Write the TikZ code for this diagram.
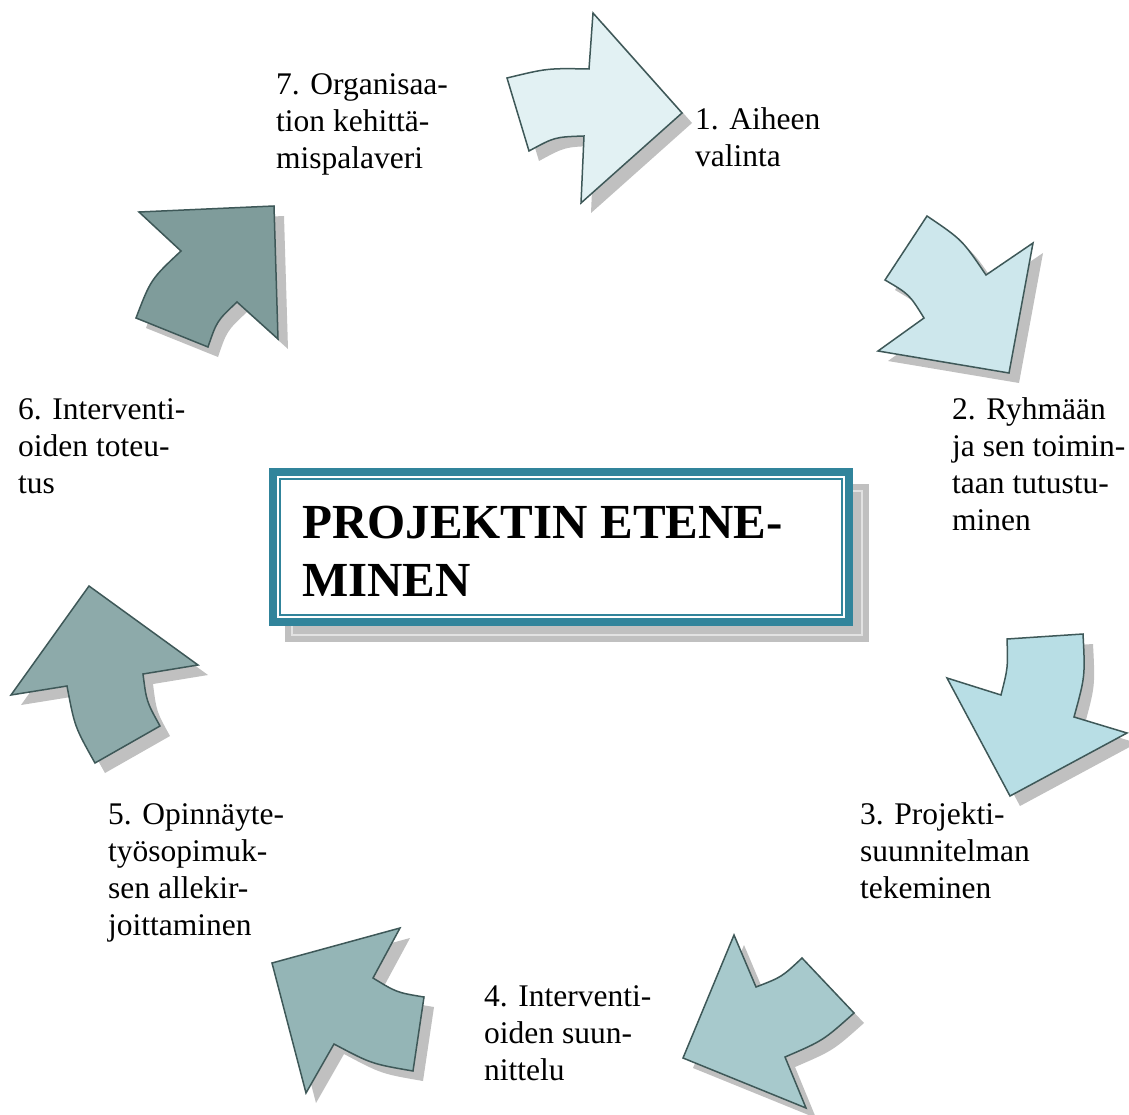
\documentclass[tikz,border=0pt]{standalone}
\usepackage{fontspec}
\setmainfont{Liberation Serif}
\definecolor{arrowline}{HTML}{3E5858}
\definecolor{shadowgray}{HTML}{C0C0C0}
\definecolor{shadowline}{HTML}{E2E2E2}
\definecolor{boxteal}{HTML}{31849B}
\definecolor{colA}{HTML}{E2F1F3}
\definecolor{colB}{HTML}{CDE7EC}
\definecolor{colC}{HTML}{B8DEE5}
\definecolor{colD}{HTML}{A7C9CC}
\definecolor{colE}{HTML}{94B5B6}
\definecolor{colF}{HTML}{8DAAAA}
\definecolor{colG}{HTML}{7F9C9B}
\newcommand\cyclearrow[2]{%
  \fill[shadowgray,xshift=10pt,yshift=-10pt] #2;
  \filldraw[arrowshape,fill=#1] #2;}
\begin{document}
\begin{tikzpicture}[x=1pt,y=-1pt,
  arrowshape/.style={draw=arrowline,line width=1.5pt,line join=miter},
  steplabel/.style={anchor=north west,inner sep=0pt,align=left,
    font=\fontsize{31.5}{37}\selectfont},
  titletext/.style={anchor=north west,inner sep=0pt,align=left,
    font=\fontsize{49}{58}\selectfont\bfseries}]
\useasboundingbox[fill=white] (0,0) rectangle (1129,1115);

% arrows
\cyclearrow{colA}{(507,78) .. controls (547.4,68.2) .. (589,69) -- (593,13) -- (682,113) -- (581,203) -- (584,136) .. controls (554.7,137) .. (529,151) -- cycle}
\cyclearrow{colB}{(927,216) .. controls (962.2,239.8) .. (986,275) -- (1033,243) -- (1009,373) -- (878,351) -- (924,318) .. controls (909.2,294.2) .. (885,280) -- cycle}
\cyclearrow{colC}{(1007,639) -- (1083,634) .. controls (1085.2,676.2) .. (1074,717) -- (1127,733) -- (1010,796) -- (947,678) -- (1001,695) .. controls (1008,667.4) .. (1007,639) -- cycle}
\cyclearrow{colD}{(734,935) -- (756,987) .. controls (781.8,977) .. (802,958) -- (854,1013) .. controls (823.1,1040.6) .. (785,1057) -- (806,1108) -- (683,1058) -- cycle}
\cyclearrow{colE}{(400,928) -- (373,978) .. controls (396.7,992.5) .. (424,997) -- (413,1071) .. controls (371.3,1063.8) .. (334,1044) -- (306,1093) -- (272,963) -- cycle}
\cyclearrow{colF}{(89,586) -- (198,665) -- (143,674) .. controls (146.5,701.6) .. (160,726) -- (95,763) .. controls (74.7,726.8) .. (67,686) -- (11,695) -- cycle}
\cyclearrow{colG}{(139,212) -- (274,206) -- (278,339) -- (237,302) .. controls (216.9,320.9) .. (208,347) -- (136,318) .. controls (150.8,279.3) .. (181,251) -- cycle}

% title box
\fill[shadowgray] (285,484) rectangle (869,642);
\draw[shadowline,line width=1.5pt] (292,491) rectangle (862,635);
\fill[boxteal] (269,468) rectangle (853,626);
\fill[white] (277,476) rectangle (845,618);
\draw[boxteal,line width=2pt] (280,479) rectangle (842,615);
\node[titletext] (title) at (302,497.4) {\strut PROJEKTIN ETENE-\\MINEN};

% labels
\node[steplabel] (lbl1) at (695,103.1) {\strut 1. Aiheen\\valinta};
\node[steplabel] (lbl2) at (952,393.1) {\strut 2. Ryhmään\\ja sen toimin-\\taan tutustu-\\minen};
\node[steplabel] (lbl3) at (860,798.1) {\strut 3. Projekti-\\suunnitelman\\tekeminen};
\node[steplabel] (lbl4) at (484,980.1) {\strut 4. Interventi-\\oiden suun-\\nittelu};
\node[steplabel] (lbl5) at (108,798.1) {\strut 5. Opinnäyte-\\työsopimuk-\\sen allekir-\\joittaminen};
\node[steplabel] (lbl6) at (18,393.1) {\strut 6. Interventi-\\oiden toteu-\\tus};
\node[steplabel] (lbl7) at (276,68.1) {\strut 7. Organisaa-\\tion kehittä-\\mispalaveri};
\end{tikzpicture}
\end{document}
